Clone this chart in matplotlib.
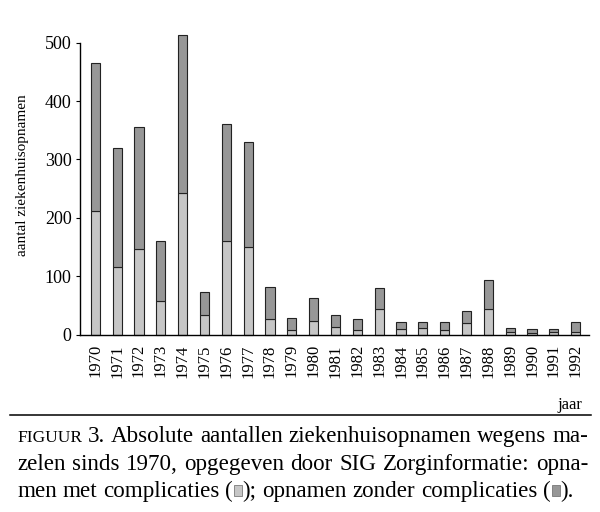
import matplotlib
matplotlib.use("Agg")
import matplotlib.pyplot as plt
from matplotlib.patches import Rectangle
import numpy as np

years = [str(y) for y in range(1970, 1993)]
met_complicaties = [212, 115, 147, 58, 242, 33, 161, 150, 26, 7, 23, 13, 8, 43, 9, 11, 8, 19, 43, 4, 3, 4, 4]
zonder_complicaties = [253, 204, 208, 102, 272, 39, 200, 179, 55, 21, 40, 20, 18, 37, 13, 11, 13, 21, 50, 7, 7, 6, 17]
yticks = [0, 100, 200, 300, 400, 500]

LIGHT = "#c6c6c6"
DARK = "#979797"
SERIF = "Liberation Serif"

plt.rcParams["font.family"] = SERIF

W, H = 600, 512
fig = plt.figure(figsize=(6, 5.12), dpi=100)

def fx(x):
    return x / W

def fy(y):
    return (H - y) / H

ax = fig.add_axes([fx(80), fy(334.5), fx(589) - fx(80), fy(42.7) - fy(334.5)])
x = np.arange(len(years))
ax.bar(x, met_complicaties, width=0.42, color=LIGHT, edgecolor="#222222", linewidth=0.8, clip_on=False)
ax.bar(x, zonder_complicaties, width=0.42, bottom=met_complicaties, color=DARK,
       edgecolor="#222222", linewidth=0.8, clip_on=False)
ax.set_xlim(-0.70, 22.61)
ax.set_ylim(0, 500)
ax.set_yticks(yticks)
ax.set_yticklabels([str(t) for t in yticks], fontsize=13)
ax.set_xticks(x)
ax.set_xticklabels(years, rotation=90, fontsize=12)
ax.tick_params(axis="x", length=0, pad=7)
ax.tick_params(axis="y", length=3, width=0.8, pad=3)
for s in ["top", "right"]:
    ax.spines[s].set_visible(False)
for s in ["left", "bottom"]:
    ax.spines[s].set_linewidth(1.0)

fig.text(fx(23), fy(175), "aantal ziekenhuisopnamen", fontsize=11, rotation=90,
         ha="center", va="center")

fig.text(fx(582), fy(409), "jaar", fontsize=12, ha="right", va="baseline")

# rule
fig.add_artist(plt.Line2D([fx(10), fx(591)], [fy(415), fy(415)], color="black", linewidth=1.1))

renderer = fig.canvas.get_renderer()
CAP = 16.6
SMALL = 12.5

def measure(s, size):
    t = fig.text(0, 0, s, fontsize=size)
    w = t.get_window_extent(renderer).width
    t.remove()
    return w

def word_width(word):
    w = 0
    for seg in word:
        if seg[0] == "box":
            w += seg[1]
        else:
            w += measure(seg[0], seg[1])
    return w

def draw_line(words, baseline, x0, x1, justify=True):
    widths = [word_width(wd) for wd in words]
    space = measure("a a", CAP) - measure("aa", CAP)
    if justify:
        gap = max((x1 - x0 - sum(widths)) / (len(words) - 1), space * 0.6)
    else:
        gap = space
    cx = x0
    for wd, ww in zip(words, widths):
        for seg in wd:
            if seg[0] == "box":
                bw = seg[1]
                fig.add_artist(Rectangle((fx(cx + 1), fy(baseline - 1)), fx(bw - 2), fy(0) - fy(11),
                                         transform=fig.transFigure, facecolor=seg[2],
                                         edgecolor="#666666", linewidth=0.5))
                cx += bw
            else:
                fig.text(fx(cx), fy(baseline), seg[0], fontsize=seg[1], ha="left", va="baseline")
                cx += measure(seg[0], seg[1])
        cx += gap

def plain(s):
    return [[(w, CAP)] for w in s.split(" ")]

line1 = [[("FIGUUR", SMALL)]] + plain("3. Absolute aantallen ziekenhuisopnamen wegens ma-")
line2 = plain("zelen sinds 1970, opgegeven door SIG Zorginformatie: opna-")
line3 = plain("men met complicaties") + [[("(", CAP), ("box", 10, LIGHT), (");", CAP)]] + \
    plain("opnamen zonder complicaties") + [[("(", CAP), ("box", 10, DARK), (").", CAP)]]

draw_line(line1, 442, 17, 588)
draw_line(line2, 470, 17, 588)
draw_line(line3, 497, 17, 588, justify=False)

fig.savefig("out.png", dpi=100)
